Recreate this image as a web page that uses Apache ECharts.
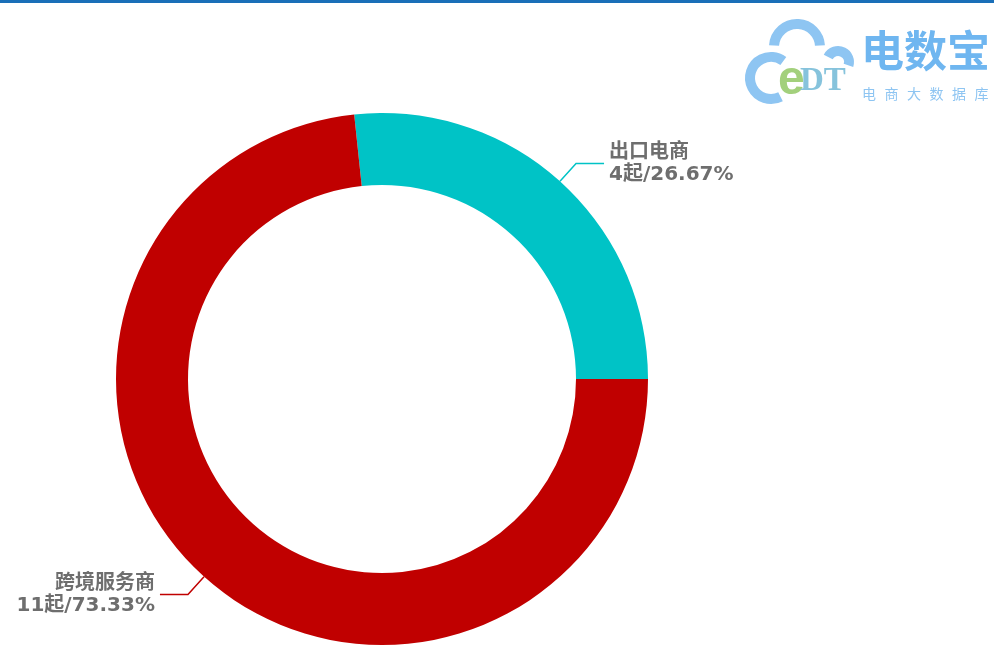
<!DOCTYPE html>
<html>
<head>
<meta charset="utf-8">
<script src="https://cdn.jsdelivr.net/npm/echarts@6/dist/echarts.min.js"></script>
<style>
html,body{margin:0;padding:0;background:#fff;}
#main{width:994px;height:645px;border-top:3px solid #1a6fb8;box-sizing:border-box;}
</style>
</head>
<body>
<div id="main"></div>
<script>
// 数据
var names = ['出口电商', '跨境服务商'];
var counts = [4, 11];
var colors = ['#00c3c6', '#c00000'];
var logoSub = ['电', '商', '大', '数', '据', '库'];

var chart = echarts.init(document.getElementById('main'));

var pieData = [];
for (var i = 0; i < names.length; i++) {
    pieData.push({name: names[i], value: counts[i], itemStyle: {color: colors[i]}});
}

// logo 右上角 (云朵 + eDT + 文字)
var cloudStyle = {stroke: '#8ec5f2', lineWidth: 10, fill: null};
var logo = [
    {type: 'arc', shape: {cx: 797, cy: 44, r: 23, startAngle: Math.PI * 1.02, endAngle: Math.PI * 1.98, clockwise: true}, style: cloudStyle},
    {type: 'arc', shape: {cx: 838, cy: 59, r: 11, startAngle: Math.PI * 1.15, endAngle: Math.PI * 2.1, clockwise: true}, style: cloudStyle},
    {type: 'arc', shape: {cx: 771, cy: 75, r: 21, startAngle: Math.PI * 0.35, endAngle: Math.PI * 1.7, clockwise: true}, style: cloudStyle},
    {type: 'text', x: 778, y: 54, style: {
        text: 'e', font: 'bold 48px "Liberation Sans"', fill: '#a3d07c'
    }},
    {type: 'text', x: 800, y: 62, style: {
        text: 'DT', font: 'bold 33px "Liberation Serif"', fill: '#86c3dc'
    }},
    {type: 'text', x: 861, y: 26, style: {
        text: '电数宝', font: 'bold 43px "Noto Sans CJK SC"', fill: '#6fb6f0'
    }}
];
for (var k = 0; k < logoSub.length; k++) {
    logo.push({type: 'text', x: 862 + k * 22.5, y: 84, style: {
        text: logoSub[k], font: '14px "Noto Sans CJK SC"', fill: '#8ec5f2'
    }});
}

var option = {
    backgroundColor: '#fff',
    animation: false,
    graphic: logo,
    series: [
        {
            name: '事件',
            type: 'pie',
            center: [382, 376],
            radius: [194, 266],
            startAngle: 96,
            clockwise: true,
            avoidLabelOverlap: false,
            label: {
                show: true,
                formatter: function (p) {
                    return p.name + '\n' + p.value + '起/' + p.percent.toFixed(2) + '%';
                },
                color: '#6e6e6e',
                fontSize: 20,
                fontWeight: 'bold',
                lineHeight: 22,
                fontFamily: '"DejaVu Sans", "Noto Sans CJK SC", sans-serif'
            },
            labelLine: {
                show: true,
                length: 24,
                length2: 28,
                lineStyle: {width: 1.5}
            },
            data: pieData
        }
    ]
};
chart.setOption(option);
</script>
</body>
</html>
